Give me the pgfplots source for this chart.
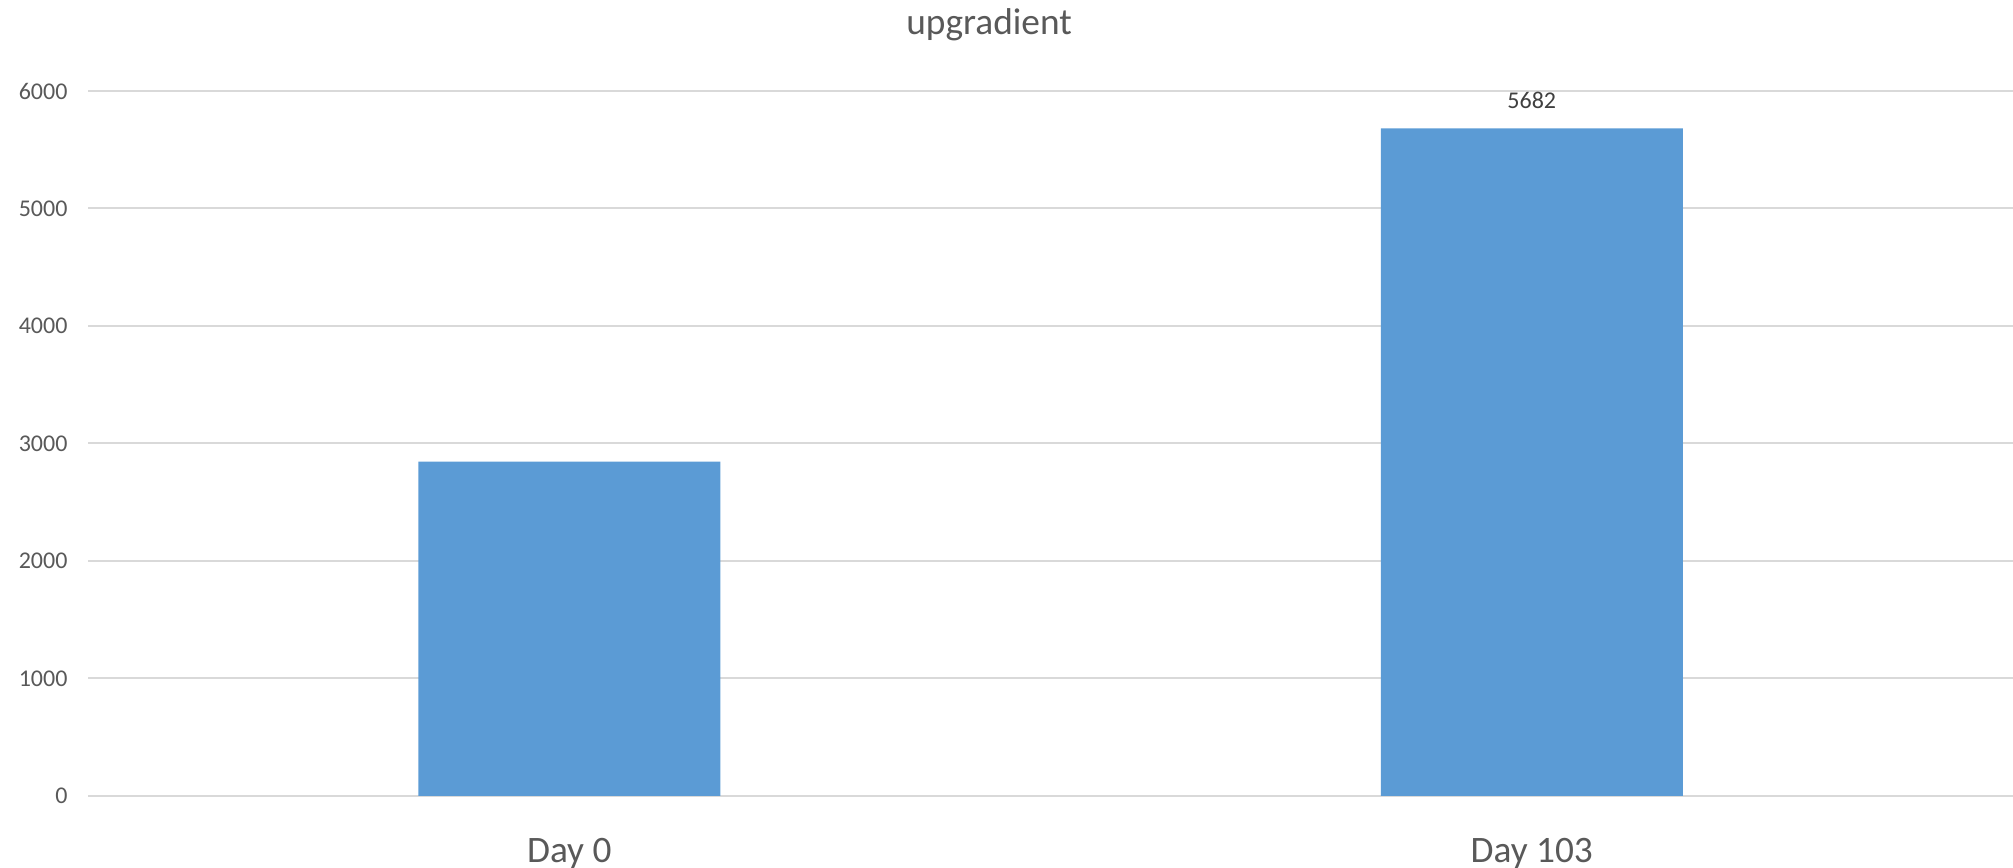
\documentclass[border=0pt]{standalone}
\usepackage{fontspec}
\setmainfont{Carlito}
\usepackage{pgfplots}
\usepackage{pgfplotstable}
\pgfplotsset{compat=1.18}

\definecolor{barblue}{HTML}{5B9BD5}
\definecolor{gridgray}{HTML}{D9D9D9}
\definecolor{labelgray}{HTML}{595959}
\definecolor{valuegray}{HTML}{404040}

% x: category index, y: count, show: 1 if the value is printed above the bar
\pgfplotstableread{
x  y     show
0  2845  0
1  5682  1
}\upgradient

\begin{document}
\begin{tikzpicture}
\useasboundingbox (-33pt,-27pt) rectangle (721.875pt,298.5pt);
\begin{axis}[
  at={(0pt,0pt)}, anchor=south west,
  scale only axis,
  width=721.875pt, height=264.375pt,
  xmin=-0.5, xmax=1.5,
  ymin=0, ymax=6000,
  ytick={0,1000,...,6000},
  xtick=data,
  xticklabels={Day 0, Day 103},
  axis line style={draw=none},
  tick style={draw=none},
  ymajorgrids,
  major grid style={draw=gridgray, line width=0.75pt},
  /pgf/number format/assume math mode=true,
  /pgf/number format/set thousands separator={},
  yticklabel style={font=\fontsize{9}{11}\selectfont, text=labelgray,
    anchor=east, inner sep=0pt, xshift=-7.5pt},
  xticklabel style={font=\fontsize{14}{17}\selectfont, text=labelgray,
    anchor=north, inner sep=0pt, yshift=-11.2pt},
  title=upgradient,
  title style={font=\fontsize{14}{17}\selectfont, text=labelgray,
    at={(axis description cs:0.4681,1.0808)}, anchor=base, inner sep=0pt,
    yshift=-6.3pt},
  ybar, bar width=113.25pt,
  clip=false,
]
\addplot[fill=barblue, draw=none,
  visualization depends on={\thisrow{show} \as \showlab},
  nodes near coords={\ifdim\showlab pt>0.5pt \pgfmathprintnumber{\pgfplotspointmeta}\fi},
  every node near coord/.append style={font=\fontsize{9}{11}\selectfont,
    text=valuegray, anchor=south, inner sep=0pt, yshift=7.1pt},
] table[x=x, y=y] {\upgradient};
\end{axis}
\end{tikzpicture}
\end{document}
